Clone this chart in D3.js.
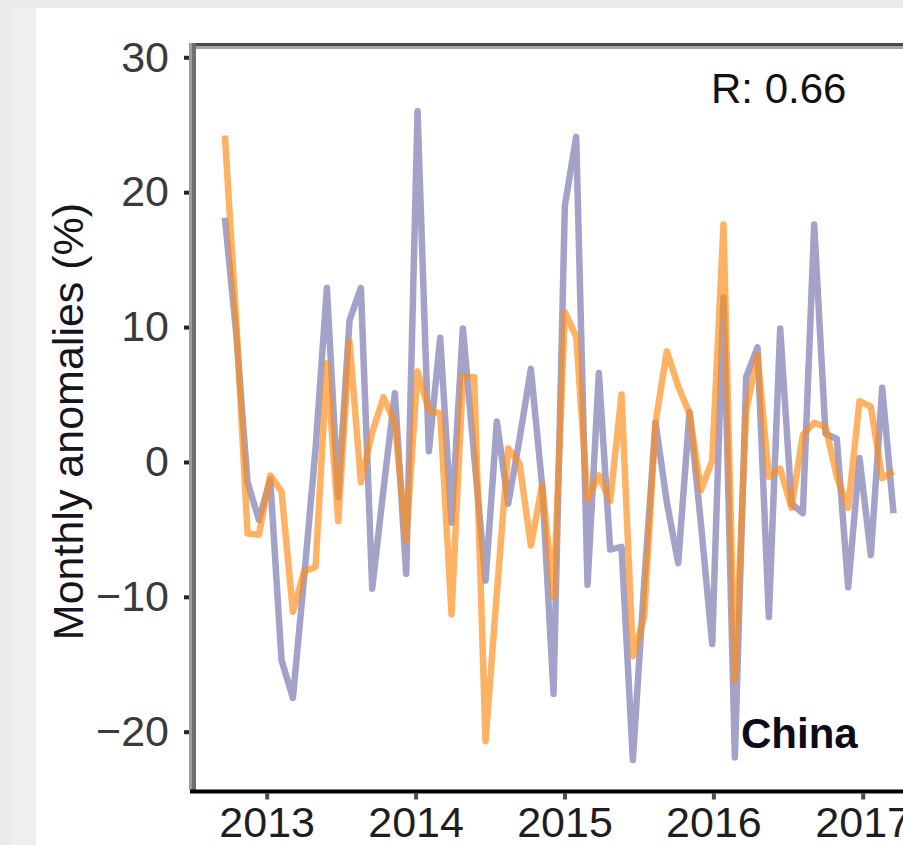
<!DOCTYPE html>
<html>
<head>
<meta charset="utf-8">
<script src="https://cdn.jsdelivr.net/npm/d3@7"></script>
<style>
  html, body { margin: 0; padding: 0; background: #ffffff; }
  svg { display: block; }
  text { font-family: "Liberation Sans", Arial, Helvetica, sans-serif; }
</style>
</head>
<body>
<svg id="chart" width="903" height="845"></svg>
<script>
// ---- data -------------------------------------------------------------
const yearTicks = [2013, 2014, 2015, 2016, 2017];
const yTickValues = [-20, -10, 0, 10, 20, 30];

// sampling: one value every ~4 weeks starting late September 2012
const firstSample = "2012-09-20";
const sampleStepDays = 27.78;

// anomaly series (%), purple trace
const purpleSeries = [
  18.1, 9.5, -1.5, -4.3, -1.3, -14.7, -17.5, -8.5, 1.0, 12.9,
  -2.6, 10.5, 12.9, -9.4, -2.0, 5.1, -8.3, 26.0, 0.8, 9.2,
  -4.5, 9.9, 0.4, -8.8, 3.0, -3.1, 1.7, 6.9, -1.8, -17.2,
  19.0, 24.1, -9.1, 6.6, -6.5, -6.3, -22.1, -9.0, 2.9, -3.0,
  -7.5, 3.7, -4.5, -13.5, 12.2, -21.9, 6.3, 8.5, -11.5, 9.9,
  -3.1, -3.8, 17.6, 2.1, 1.7, -9.3, 0.3, -6.9, 5.5, -3.8
];

// anomaly series (%), orange trace
const orangeSeries = [
  24.2, 10.5, -5.3, -5.4, -1.0, -2.2, -11.1, -8.1, -7.8, 7.3,
  -4.4, 8.9, -1.5, 2.2, 4.8, 2.9, -5.8, 6.7, 3.8, 3.6,
  -11.3, 6.3, 6.3, -20.7, -9.7, 1.0, -0.1, -6.2, -1.7, -10.0,
  11.1, 9.3, -2.8, -1.0, -2.9, 5.0, -14.4, -11.5, 2.9, 8.2,
  5.6, 3.6, -2.1, 0.1, 17.6, -16.2, 3.8, 7.9, -1.1, -0.5,
  -3.4, 2.0, 2.9, 2.6, -1.1, -3.4, 4.5, 4.1, -1.2, -0.7
];

const correlationText = "R: 0.66";
const regionText = "China";
const yAxisTitle = "Monthly anomalies (%)";

// ---- layout -----------------------------------------------------------
const W = 903, H = 845;
const panel = { left: 192, top: 44, right: 920, bottom: 791.5 };

const svg = d3.select("#chart");

// surrounding page and card
svg.append("rect").attr("x", 0).attr("y", 0).attr("width", W).attr("height", H).attr("fill", "#ebebeb");
svg.append("rect").attr("x", 13).attr("y", 8).attr("width", 23).attr("height", H - 8).attr("fill", "#efefef");
svg.append("rect").attr("x", 36).attr("y", 8).attr("width", W - 36).attr("height", H - 8).attr("fill", "#ffffff");

// ---- scales -----------------------------------------------------------
const parseDay = d3.timeParse("%Y-%m-%d");
const start = parseDay(firstSample);
start.setHours(12);
const dates = purpleSeries.map((_, i) => new Date(start.getTime() + i * sampleStepDays * 864e5));

const x = d3.scaleTime()
  .domain([new Date(2013, 0, 1), new Date(2017, 0, 1)])
  .range([266.7, 862.7]);

const y = d3.scaleLinear()
  .domain([-20, 30])
  .range([731.7, 57.3]);

// ---- panel frame ------------------------------------------------------
// top border (dark edge with a soft lighter underside)
svg.append("line").attr("x1", panel.left).attr("x2", W).attr("y1", 47.5).attr("y2", 47.5)
  .attr("stroke", "#a6a6a6").attr("stroke-width", 3);
svg.append("line").attr("x1", panel.left).attr("x2", W).attr("y1", 44.5).attr("y2", 44.5)
  .attr("stroke", "#4a4a4a").attr("stroke-width", 3);

// ---- series lines -----------------------------------------------------
const line = d3.line()
  .x(d => x(d.date))
  .y(d => y(d.value));

const purplePts = purpleSeries.map((v, i) => ({ date: dates[i], value: v }));
const orangePts = orangeSeries.map((v, i) => ({ date: dates[i], value: v }));

svg.append("path")
  .datum(purplePts)
  .attr("d", line)
  .attr("fill", "none")
  .attr("stroke", "#a3a2c8")
  .attr("stroke-width", 6.5)
  .attr("stroke-linejoin", "round");

svg.append("path")
  .datum(orangePts)
  .attr("d", line)
  .attr("fill", "none")
  .attr("stroke", "#ff8c1a")
  .attr("stroke-opacity", 0.68)
  .attr("stroke-width", 6.5)
  .attr("stroke-linejoin", "round");

// ---- y axis -----------------------------------------------------------
const fmtY = v => (v < 0 ? "\u2212" + Math.abs(v) : String(v));

const yAxis = svg.append("g")
  .attr("transform", `translate(${panel.left},0)`)
  .call(d3.axisLeft(y).tickValues(yTickValues).tickSize(8).tickPadding(15).tickFormat(fmtY));
yAxis.select(".domain").remove();
yAxis.selectAll(".tick line").attr("stroke", "#262626").attr("stroke-width", 4);
yAxis.selectAll(".tick text")
  .attr("fill", "#3a3a3a")
  .style("font-size", "43px")
  .style("font-family", "'Liberation Sans', Arial, sans-serif");

// left axis line (soft outer edge + darker core)
svg.append("line").attr("x1", 190.5).attr("x2", 190.5).attr("y1", 43).attr("y2", 790)
  .attr("stroke", "#9c9c9c").attr("stroke-width", 3);
svg.append("line").attr("x1", 194).attr("x2", 194).attr("y1", 43).attr("y2", 790)
  .attr("stroke", "#707070").attr("stroke-width", 4);

// ---- x axis -----------------------------------------------------------
const xAxis = svg.append("g")
  .attr("transform", `translate(0,${panel.bottom + 2})`)
  .call(d3.axisBottom(x)
    .tickValues(yearTicks.map(yr => new Date(yr, 0, 1)))
    .tickSize(6).tickPadding(10)
    .tickFormat(d3.timeFormat("%Y")));
xAxis.select(".domain").remove();
xAxis.selectAll(".tick line").attr("stroke", "#4d4d4d").attr("stroke-width", 4);
xAxis.selectAll(".tick text")
  .attr("fill", "#1e1e1e")
  .attr("dy", 0)
  .attr("y", 43)
  .style("font-size", "43px")
  .style("font-family", "'Liberation Sans', Arial, sans-serif");

// bottom axis line
svg.append("line").attr("x1", 190).attr("x2", W).attr("y1", panel.bottom).attr("y2", panel.bottom)
  .attr("stroke", "#000000").attr("stroke-width", 4);

// ---- annotations ------------------------------------------------------
svg.append("text")
  .attr("x", 711).attr("y", 103)
  .attr("fill", "#111111")
  .style("font-size", "42px")
  .text(correlationText);

svg.append("text")
  .attr("x", 741).attr("y", 748)
  .attr("fill", "#0b0b1a")
  .style("font-size", "42px")
  .style("font-weight", "bold")
  .text(regionText);

svg.append("text")
  .attr("transform", "translate(83,421.5) rotate(-90)")
  .attr("text-anchor", "middle")
  .attr("fill", "#151520")
  .style("font-size", "43px")
  .text(yAxisTitle);
</script>
</body>
</html>
